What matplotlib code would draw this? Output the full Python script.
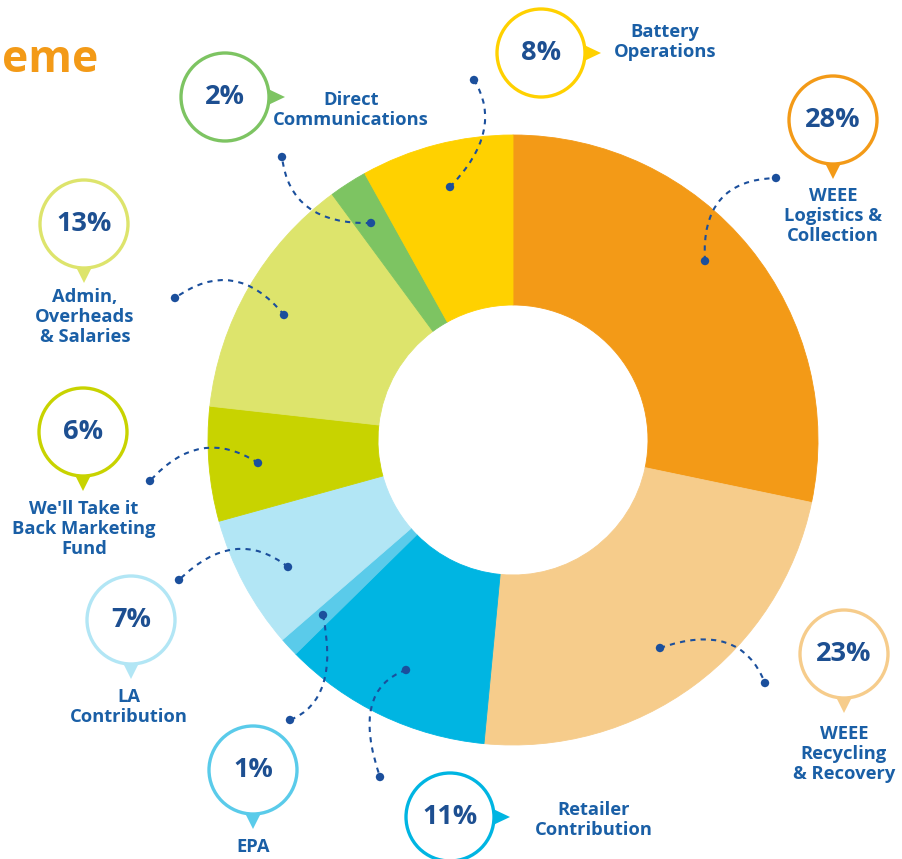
import matplotlib.pyplot as plt
from matplotlib.patches import Circle, Polygon, PathPatch
from matplotlib.path import Path

plt.rcParams['font.family'] = ['Open Sans', 'DejaVu Sans']

W, H = 902, 859

# Cost breakdown, clockwise from the top
categories = [
    "WEEE\nLogistics &\nCollection",
    "WEEE\nRecycling\n& Recovery",
    "Retailer\nContribution",
    "EPA",
    "LA\nContribution",
    "We'll Take it\nBack Marketing\nFund",
    "Admin,\nOverheads\n& Salaries",
    "Direct\nCommunications",
    "Battery\nOperations",
]
shares = [28, 23, 11, 1, 7, 6, 13, 2, 8]
colors = ["#F39A17", "#F6CC8B", "#00B5E2", "#5ACBEA", "#B2E6F5",
          "#C8D300", "#DDE46C", "#7DC462", "#FFD100"]

TEXT_BLUE = "#1A5FA6"
PCT_BLUE = "#1D4F91"
LINE_BLUE = "#1B4F9C"


def Y(y):
    return H - y


# bubble centre, pointer side, label centre (pixel layout, y from top)
bubbles = [
    ((833, 120), "down", (833, 216)),
    ((844, 654), "down", (844, 754)),
    ((450, 817), "right", (594, 820)),
    ((253, 770), "down", (253, 847)),
    ((131, 620), "down", (129, 707)),
    ((83, 432), "down", (84, 529)),
    ((84, 224), "down", (85, 317)),
    ((225, 97), "right", (351, 110)),
    ((541, 53), "right", (665, 42)),
]

# dotted leaders: point on the ring, bend point, free end
leaders = [
    ((705, 261), (700, 180), (776, 178)),
    ((660, 648), (740, 620), (765, 683)),
    ((406, 670), (350, 690), (380, 777)),
    ((323, 615), (340, 700), (290, 720)),
    ((288, 567), (235, 525), (179, 580)),
    ((258, 463), (200, 425), (150, 481)),
    ((284, 315), (235, 255), (175, 298)),
    ((371, 223), (290, 225), (282, 157)),
    ((450, 187), (505, 130), (474, 80)),
]

fig = plt.figure(figsize=(W / 100, H / 100), dpi=100)
ax = fig.add_axes([0, 0, 1, 1])

wedges, _ = ax.pie(shares, colors=colors, startangle=90, counterclock=False,
                   center=(513, Y(440)), radius=305,
                   wedgeprops=dict(width=170, linewidth=0.6))
for w in wedges:
    w.set_edgecolor(w.get_facecolor())

ax.set_xlim(0, W)
ax.set_ylim(0, H)
ax.set_aspect("equal")
ax.axis("off")

R = 44
for share, col, label, (c, side, lab) in zip(shares, colors, categories, bubbles):
    cx, cy = c[0], Y(c[1])
    if side == "down":
        tri = [(cx - 9, cy - R + 3), (cx + 9, cy - R + 3), (cx, cy - R - 15)]
    else:
        tri = [(cx + R - 3, cy + 9), (cx + R - 3, cy - 9), (cx + R + 16, cy)]
    ax.add_patch(Polygon(tri, closed=True, facecolor=col, edgecolor="none", zorder=4))
    ax.add_patch(Circle((cx, cy), R, facecolor="white", edgecolor=col,
                        linewidth=2.4, zorder=5))
    ax.text(cx, cy, f"{share}%", ha="center", va="center", fontsize=19.5,
            fontweight="bold", color=PCT_BLUE, zorder=6)
    ax.text(lab[0], Y(lab[1]), label, ha="center", va="center", fontsize=13.2,
            fontweight="bold", color=TEXT_BLUE, linespacing=1.15, zorder=6)

for p0, p1, p2 in leaders:
    verts = [(p0[0], Y(p0[1])), (p1[0], Y(p1[1])), (p2[0], Y(p2[1]))]
    path = Path(verts, [Path.MOVETO, Path.CURVE3, Path.CURVE3])
    ax.add_patch(PathPatch(path, facecolor="none", edgecolor=LINE_BLUE,
                           linewidth=1.5, linestyle=(0, (2.5, 2.5)), zorder=3))
    for px, py in (verts[0], verts[2]):
        ax.add_patch(Circle((px, py), 4.2, facecolor=LINE_BLUE,
                            edgecolor="none", zorder=4))

# tail of the page heading in the top-left corner
ax.text(2, Y(60), "eme", ha="left", va="center", fontsize=32,
        fontweight="bold", color="#F39A17")

fig.savefig("out.png", dpi=100)
